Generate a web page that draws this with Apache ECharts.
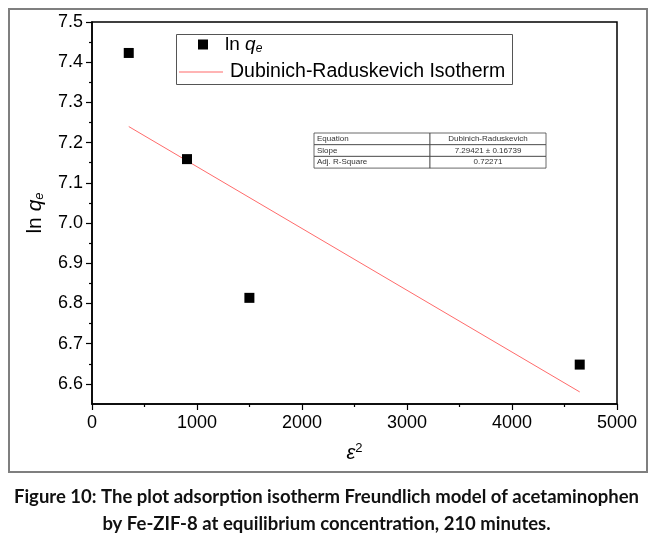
<!DOCTYPE html>
<html>
<head>
<meta charset="utf-8">
<script src="https://cdn.jsdelivr.net/npm/echarts@6/dist/echarts.min.js"></script>
<style>
  html, body { margin: 0; padding: 0; background: #fff; }
  #chart { width: 653px; height: 538px; }
</style>
</head>
<body>
<div id="chart"></div>
<script>
        // data
        var epsSq = [350, 905, 1499, 4645];
        var lnQe = [7.423, 7.159, 6.814, 6.648];
        var fitX = [350, 4645];
        var fitY = [7.24, 6.58];
        var yMajor = [6.6, 6.7, 6.8, 6.9, 7.0, 7.1, 7.2, 7.3, 7.4, 7.5];
        var yMinor = [6.65, 6.75, 6.85, 6.95, 7.05, 7.15, 7.25, 7.35, 7.45];
        var tableRows = [
            ['Equation', 'Dubinich-Raduskevich'],
            ['Slope', '7.29421 \u00b1 0.16739'],
            ['Adj. R-Square', '0.72271']
        ];
        var captionLines = [
            'Figure 10: The plot adsorption isotherm Freundlich model of acetaminophen',
            'by Fe-ZIF-8 at equilibrium concentration, 210 minutes.'
        ];

        var font = 'Liberation Sans, Arial, sans-serif';
        var fitColor = '#ff6b6b';
        var qRich = {
            n: {fontFamily: font, fontSize: 21, color: '#000'},
            q: {fontFamily: font, fontSize: 21, fontStyle: 'italic', color: '#000'},
            s: {fontFamily: font, fontSize: 13, fontStyle: 'italic', color: '#000', padding: [9, 0, 0, 0]}
        };
        var legRich = {
            n: {fontFamily: font, fontSize: 19, color: '#000'},
            q: {fontFamily: font, fontSize: 19, fontStyle: 'italic', color: '#000'},
            s: {fontFamily: font, fontSize: 12, fontStyle: 'italic', color: '#000', padding: [8, 0, 0, 0]}
        };

        //表格 (annotation box)
        function buildTable(){
            var g = [];
            var x0 = 314, x1 = 430, x2 = 546, y0 = 133, rh = 11.7;
            for (var i = 0; i < tableRows.length; i++) {
                var y = y0 + i * rh;
                g.push({type: 'rect', shape: {x: x0, y: y, width: x1 - x0, height: rh},
                    style: {fill: '#fff', stroke: '#444', lineWidth: 0.8}, z: 10});
                g.push({type: 'rect', shape: {x: x1, y: y, width: x2 - x1, height: rh},
                    style: {fill: '#fff', stroke: '#444', lineWidth: 0.8}, z: 10});
                g.push({type: 'text', x: x0 + 3, y: y + rh / 2, z: 11,
                    style: {text: tableRows[i][0], fill: '#333', font: '8px ' + font, textVerticalAlign: 'middle'}});
                g.push({type: 'text', x: (x1 + x2) / 2, y: y + rh / 2, z: 11,
                    style: {text: tableRows[i][1], fill: '#333', font: '8px ' + font, textAlign: 'center', textVerticalAlign: 'middle'}});
            }
            return g;
        }

        var chart = echarts.init(document.getElementById('chart'));
        var graphics = [
            {type: 'rect', shape: {x: 9, y: 9, width: 638, height: 463},
                style: {fill: 'none', stroke: '#7f7f7f', lineWidth: 2}, z: 0},
            {type: 'rect', shape: {x: 176.5, y: 34.5, width: 336, height: 50},
                style: {fill: '#fff', stroke: '#555', lineWidth: 1}, z: 1}
        ].concat(buildTable());

        var option = {
            animation: false,
            backgroundColor: '#fff',
            title: {
                text: captionLines.join('\n'),
                left: 'center',
                top: 479,
                textStyle: {fontFamily: 'Lato, Noto Sans, sans-serif', fontWeight: 'bold', fontSize: 18.5, lineHeight: 27, color: '#111'}
            },
            graphic: graphics,
            legend: [
                {
                    data: ['lnqe'],
                    left: 198, top: 35, padding: 0,
                    itemWidth: 10, itemHeight: 10,
                    selectedMode: false, z: 5,
                    formatter: function(){ return '{n|ln }{q|q}{s|e}'; },
                    textStyle: {padding: [0, 0, 0, 12], rich: legRich}
                },
                {
                    data: [{name: 'Dubinich-Raduskevich Isotherm', icon: 'rect', itemStyle: {color: fitColor}}],
                    left: 179, top: 62, padding: 0,
                    itemWidth: 44, itemHeight: 1,
                    selectedMode: false, z: 5,
                    textStyle: {fontFamily: font, fontSize: 19.5, color: '#000', padding: [0, 0, 0, 2]}
                }
            ],
            grid: {
                left: 92, right: 36, top: 22, bottom: 134,
                show: true, borderColor: '#000', borderWidth: 1.5, backgroundColor: 'transparent'
            },
            xAxis: {
                type: 'value', min: 0, max: 5000, interval: 1000,
                name: '{a|\u03b5}{b|2}', nameLocation: 'middle', nameGap: 38,
                nameTextStyle: {rich: {
                    a: {fontFamily: font, fontSize: 20, fontStyle: 'italic', color: '#000'},
                    b: {fontFamily: font, fontSize: 13, color: '#000', padding: [0, 0, 10, 0]}
                }},
                axisLine: {lineStyle: {color: '#000', width: 1.5}},
                axisTick: {length: 6, lineStyle: {color: '#000', width: 1.2}},
                minorTick: {show: true, splitNumber: 2, length: 3, lineStyle: {color: '#000', width: 1.2}},
                axisLabel: {fontFamily: font, fontSize: 18, color: '#000', margin: 10,
                    formatter: function(v){ return String(v); }},
                splitLine: {show: false}
            },
            yAxis: [
                {
                    type: 'value', min: 6.55, max: 7.5,
                    name: '{n|ln }{q|q}{s|e}', nameLocation: 'middle', nameGap: 46, nameRotate: 90,
                    nameTextStyle: {rich: qRich},
                    axisLine: {lineStyle: {color: '#000', width: 1.5}},
                    axisTick: {customValues: yMajor, length: 6, lineStyle: {color: '#000', width: 1.2}},
                    axisLabel: {customValues: yMajor, fontFamily: font, fontSize: 18, color: '#000', margin: 9,
                        formatter: function(v){ return v.toFixed(1); }},
                    splitLine: {show: false}
                },
                {
                    type: 'value', min: 6.55, max: 7.5, position: 'left', offset: 0,
                    axisLine: {show: false},
                    axisTick: {customValues: yMinor, length: 3, lineStyle: {color: '#000', width: 1.2}},
                    axisLabel: {show: false},
                    splitLine: {show: false}
                }
            ],
            series: [
                {
                    name: 'lnqe', type: 'scatter', symbol: 'rect', symbolSize: 10,
                    itemStyle: {color: '#000', opacity: 1},
                    data: epsSq.map(function(x, i){ return [x, lnQe[i]]; }),
                    z: 3
                },
                {
                    name: 'Dubinich-Raduskevich Isotherm', type: 'line', symbol: 'none',
                    lineStyle: {color: fitColor, width: 1},
                    itemStyle: {color: fitColor},
                    data: fitX.map(function(x, i){ return [x, fitY[i]]; }),
                    z: 2
                }
            ]
        };
        chart.setOption(option);
</script>
</body>
</html>
